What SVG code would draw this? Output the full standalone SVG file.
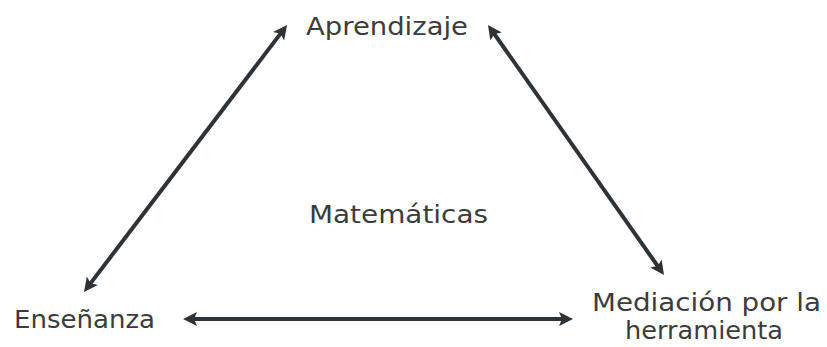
<svg xmlns="http://www.w3.org/2000/svg" width="827" height="347" viewBox="0 0 827 347">
<style>
.lbl{font-family:"DejaVu Sans","Liberation Sans",sans-serif;font-size:24px;fill:#3c3c3c;}
.con{stroke:#303336;stroke-width:4;fill:none;}
</style>
<defs>
<marker id="ah" markerUnits="userSpaceOnUse" markerWidth="16" markerHeight="16" refX="6" refY="7" orient="auto-start-reverse">
<path d="M0,0 L14,7 L0,14 L3,7 z" fill="#303336"/>
</marker>
</defs>
<rect width="827" height="347" fill="#ffffff"/>
<g id="connectors">
<line class="con" x1="88.8" y1="285.6" x2="282.2" y2="31.4" marker-start="url(#ah)" marker-end="url(#ah)"/>
<line class="con" x1="492.6" y1="31.5" x2="659.4" y2="268.5" marker-start="url(#ah)" marker-end="url(#ah)"/>
<line class="con" x1="191" y1="319" x2="565" y2="319" marker-start="url(#ah)" marker-end="url(#ah)"/>
</g>
<g id="aprendizaje"><text class="lbl" x="306" y="35" textLength="162" lengthAdjust="spacingAndGlyphs">Aprendizaje</text></g>
<g id="ensenanza"><text class="lbl" x="14" y="328" textLength="141" lengthAdjust="spacingAndGlyphs">Enseñanza</text></g>
<g id="matematicas"><text class="lbl" x="309" y="223" textLength="179" lengthAdjust="spacingAndGlyphs">Matemáticas</text></g>
<g id="mediacion"><text class="lbl" x="592" y="311" textLength="229" lengthAdjust="spacingAndGlyphs">Mediación por la</text>
<text class="lbl" x="625" y="339" textLength="158" lengthAdjust="spacingAndGlyphs">herramienta</text></g>
</svg>
